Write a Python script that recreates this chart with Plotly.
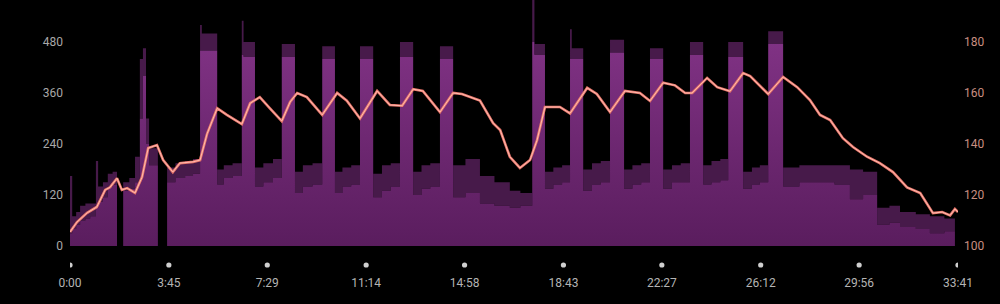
import plotly.graph_objects as go

# ---- data ----
tick_labels = ["0:00", "3:45", "7:29", "11:14", "14:58", "18:43", "22:27", "26:12", "29:56", "33:41"]
power_ticks = [0, 120, 240, 360, 480]
hr_ticks = [100, 120, 140, 160, 180]

# power segments: start time (s), lower envelope (W), upper envelope (W)
p_t = [0, 5, 14, 23, 35, 46, 59, 64, 75, 86, 97, 107, 121, 135, 148, 159, 166, 173, 180,
       200, 221, 240, 262, 280,
       296, 300, 335, 350, 370, 391, 395, 421, 440, 462,
       482, 512, 530, 552, 574, 603, 620, 640,
       660, 690, 710, 730, 751, 781, 800, 820,
       842, 872, 900, 933, 966, 1001, 1025, 1052,
       1057, 1081, 1100, 1120, 1138, 1142, 1168, 1188, 1208,
       1229, 1261, 1280, 1300, 1320, 1350, 1370, 1390,
       1411, 1441, 1460, 1480, 1498, 1532, 1552, 1570,
       1589, 1623, 1660, 1700, 1740, 1775, 1805, 1837, 1865, 1889, 1925, 1957, 1990, 2014, 2021]
p_low = [30, 40, 50, 60, 65, 70, 90, 105, 115, 140, 145, 0, 130, 135, 150, 300, 400, 240, 190,
         0, 150, 160, 165, 170,
         460, 460, 145, 160, 165, 450, 445, 140, 150, 160,
         445, 125, 140, 145, 440, 125, 140, 145,
         440, 115, 130, 140, 445, 120, 135, 140,
         440, 115, 125, 100, 95, 90, 95, 480,
         450, 135, 145, 150, 440, 440, 130, 145, 150,
         455, 135, 145, 150, 440, 135, 150, 150,
         450, 145, 150, 155, 445, 135, 145, 150,
         475, 140, 150, 150, 145, 110, 120, 50, 55, 45, 40, 30, 35, 0, 0]
p_high = [165, 70, 80, 95, 100, 100, 200, 140, 150, 170, 175, 0, 150, 160, 210, 440, 465, 300, 230,
          0, 185, 195, 200, 205,
          520, 500, 180, 190, 195, 530, 480, 185, 195, 205,
          475, 175, 190, 195, 470, 175, 185, 190,
          470, 170, 190, 195, 480, 175, 190, 195,
          470, 190, 205, 165, 150, 130, 125, 580,
          475, 175, 185, 190, 510, 465, 180, 195, 200,
          485, 180, 190, 195, 465, 180, 190, 195,
          480, 190, 200, 205, 480, 175, 185, 190,
          505, 185, 190, 190, 190, 180, 175, 90, 95, 80, 75, 70, 65, 0, 0]

# heart rate: time (s), bpm
hr_t = [0, 16, 39, 61, 80, 91, 107, 118, 130, 148, 164, 178, 198, 212, 234, 250, 280, 296, 312,
        335, 357, 391, 410, 432, 455, 482, 501, 517, 539, 574, 608, 630, 660, 699, 728, 756,
        781, 803, 842, 872, 892, 915, 933, 963, 979, 1001, 1024, 1047, 1063, 1081, 1115, 1138,
        1177, 1199, 1229, 1263, 1297, 1320, 1350, 1377, 1400, 1416, 1450, 1473, 1502, 1532,
        1548, 1589, 1623, 1655, 1684, 1707, 1730, 1759, 1782, 1814, 1843, 1873, 1905, 1935,
        1964, 1985, 2003, 2014, 2021]
hr_v = [105.5, 109.4, 113, 115.3, 122, 123, 126.6, 122, 122.7, 120.8, 127, 138.4, 139.6, 133.7,
        129, 132.5, 133, 133.7, 144, 154, 151.4, 147.8, 156, 158.4, 154, 149, 156.5, 160, 158.4,
        151.4, 160, 157, 150, 160.8, 155.3, 155, 161.5, 160.8, 152.5, 160, 159.6, 158, 157,
        148.2, 145.5, 135, 130.6, 133.7, 141.5, 154.5, 154.5, 152, 162, 159.6, 152.5, 160.8,
        160, 156.9, 164, 163, 160, 160, 165.9, 162.3, 160.7, 167.8, 166.6, 159.6, 166.3, 162.3,
        157.2, 151.4, 149.4, 142.3, 138.8, 135, 132.5, 129, 123, 120.8, 112.9, 113.3, 112,
        114.5, 113.3]


def to_sec(s):
    m, sec = s.split(":")
    return int(m) * 60 + int(sec)


tick_vals = [to_sec(s) for s in tick_labels]

fig = go.Figure()

fig.add_trace(go.Scatter(
    x=p_t, y=p_low, mode="lines", line=dict(width=0, shape="hv"),
    fill="tozeroy",
    fillgradient=dict(type="vertical",
                      colorscale=[[0, "rgb(90,29,94)"], [1, "rgb(128,50,132)"]]),
    hoverinfo="skip", showlegend=False))
fig.add_trace(go.Scatter(
    x=p_t, y=p_high, mode="lines", line=dict(width=0, shape="hv"),
    fill="tonexty", fillcolor="rgba(118,44,124,0.6)",
    hoverinfo="skip", showlegend=False))

fig.add_trace(go.Scatter(
    x=hr_t, y=hr_v, yaxis="y2", mode="lines",
    line=dict(color="#e8766c", width=2.6), hoverinfo="skip", showlegend=False))
fig.add_trace(go.Scatter(
    x=hr_t, y=hr_v, yaxis="y2", mode="lines",
    line=dict(color="#ffbcae", width=1.0), hoverinfo="skip", showlegend=False))

plot_h = 246
p_max = plot_h / 204 * 480
hr_max = 100 + plot_h / 204 * 80

shapes = []
for tv in tick_vals:
    shapes.append(dict(type="circle", xref="x", yref="paper",
                       xsizemode="pixel", ysizemode="pixel",
                       xanchor=tv, yanchor=0,
                       x0=-2.6, x1=2.6, y0=-21.6, y1=-16.4,
                       fillcolor="#cfcfcf", line=dict(width=0)))

fig.update_layout(
    width=1000, height=304,
    margin=dict(l=70, r=42, t=0, b=58),
    paper_bgcolor="#000000", plot_bgcolor="#000000",
    font=dict(family="Roboto", size=12, color="#a8a8a8"),
    shapes=shapes,
    xaxis=dict(range=[0, 2021], tickvals=tick_vals, ticktext=tick_labels,
               showgrid=False, zeroline=False, showline=False, ticks="",
               ticklabelstandoff=28, tickfont=dict(color="#b4b4b4", size=12)),
    yaxis=dict(range=[0, p_max], tickvals=power_ticks, showgrid=False, zeroline=False,
               showline=False, ticks="", ticklabelstandoff=6,
               tickfont=dict(color="#a8a8a8", size=12)),
    yaxis2=dict(range=[100, hr_max], tickvals=hr_ticks, overlaying="y", side="right",
                showgrid=False, zeroline=False, showline=False, ticks="",
                ticklabelstandoff=5, tickfont=dict(color="#c98e80", size=12)),
)

fig.write_html("out.html")
